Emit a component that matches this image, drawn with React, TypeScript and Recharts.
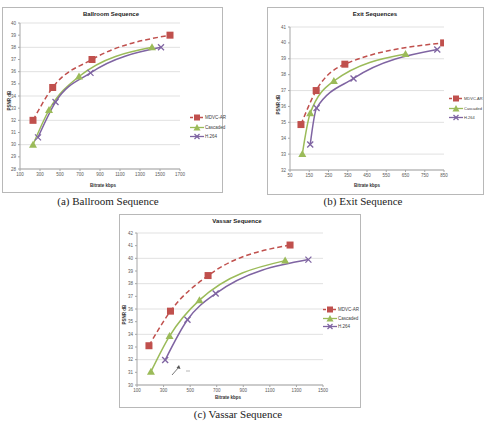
import React from 'react'
import { LineChart, Line, XAxis, YAxis, CartesianGrid } from 'recharts'

// ---- Ballroom ----
const ballroomTicksX = [100, 300, 500, 700, 900, 1100, 1300, 1500, 1700]
const ballroomTicksY = [28, 29, 30, 31, 32, 33, 34, 35, 36, 37, 38, 39, 40]
const ballroomMdvcRate = [230, 427, 820, 1600]
const ballroomMdvcPsnr = [32.0, 34.7, 37.0, 39.0]
const ballroomCascRate = [230, 390, 690, 1420]
const ballroomCascPsnr = [30.0, 32.85, 35.6, 38.0]
const ballroomH264Rate = [280, 455, 805, 1510]
const ballroomH264Psnr = [30.6, 33.5, 35.9, 38.0]

// ---- Exit ----
const exitTicksX = [50, 150, 250, 350, 450, 550, 650, 750, 850]
const exitTicksY = [32, 33, 34, 35, 36, 37, 38, 39, 40, 41]
const exitMdvcRate = [107, 186, 335, 848]
const exitMdvcPsnr = [34.86, 37.0, 38.66, 40.0]
const exitCascRate = [114, 155, 278, 650]
const exitCascPsnr = [33.0, 35.57, 37.6, 39.3]
const exitH264Rate = [155, 188, 380, 815]
const exitH264Psnr = [33.6, 35.9, 37.76, 39.58]

// ---- Vassar ----
const vassarTicksX = [100, 300, 500, 700, 900, 1100, 1300, 1500]
const vassarTicksY = [30, 31, 32, 33, 34, 35, 36, 37, 38, 39, 40, 41, 42]
const vassarMdvcRate = [190, 352, 635, 1252]
const vassarMdvcPsnr = [33.1, 35.83, 38.64, 41.05]
const vassarCascRate = [205, 345, 570, 1215]
const vassarCascPsnr = [31.05, 33.86, 36.7, 39.82]
const vassarH264Rate = [312, 480, 692, 1390]
const vassarH264Psnr = [31.97, 35.15, 37.22, 39.9]

const seriesNames = ['MDVC-AR', 'Cascaded', 'H.264']

const RED = '#c0504d'
const GREEN = '#9bbb59'
const PURPLE = '#7f64a2'
const FONT = '"Liberation Sans", Arial, sans-serif'

const zip = (rate: number[], psnr: number[]) => rate.map((r, i) => ({ rate: r, psnr: psnr[i] }))

const Square = (p: any) => (
  <rect key={`s-${p.index}`} x={p.cx - 3.5} y={p.cy - 3.5} width={7} height={7} fill={RED} />
)
const Tri = (p: any) => (
  <polygon
    key={`t-${p.index}`}
    points={`${p.cx},${p.cy - 4} ${p.cx - 4},${p.cy + 3} ${p.cx + 4},${p.cy + 3}`}
    fill={GREEN}
  />
)
const Cross = (p: any) => (
  <g key={`x-${p.index}`} stroke={PURPLE} strokeWidth={1.3}>
    <line x1={p.cx - 3} y1={p.cy - 3} x2={p.cx + 3} y2={p.cy + 3} />
    <line x1={p.cx - 3} y1={p.cy + 3} x2={p.cx + 3} y2={p.cy - 3} />
  </g>
)

function LegendBox({ left, top, gap, size = 4.5 }: { left: number; top: number; gap: number; size?: number }) {
  const marks = [
    <rect x={4} y={0.5} width={6} height={6} fill={RED} />,
    <polygon points="7,0 3.5,6.5 10.5,6.5" fill={GREEN} />,
    <g stroke={PURPLE} strokeWidth={1.2}>
      <line x1={4.5} y1={1} x2={9.5} y2={6} />
      <line x1={4.5} y1={6} x2={9.5} y2={1} />
    </g>,
  ]
  const colors = [RED, GREEN, PURPLE]
  return (
    <div style={{ position: 'absolute', left, top }}>
      {seriesNames.map((n, i) => (
        <div key={n} style={{ position: 'absolute', left: 0, top: i * gap, display: 'flex', alignItems: 'center', whiteSpace: 'nowrap' }}>
          <svg width={14} height={7}>
            <line x1={0} y1={3.5} x2={14} y2={3.5} stroke={colors[i]} strokeWidth={1.3} strokeDasharray={i === 0 ? '3 2' : undefined} />
            {marks[i]}
          </svg>
          <span style={{ fontFamily: FONT, fontSize: size, color: '#404040', marginLeft: 1 }}>{n}</span>
        </div>
      ))}
    </div>
  )
}

interface PanelProps {
  box: { left: number; top: number; width: number; height: number }
  margin: { top: number; right: number; bottom: number; left: number }
  yWidth: number
  title: string
  titleX: number
  titleY: number
  xLabelPos: [number, number]
  yLabelPos: [number, number]
  ticksX: number[]
  ticksY: number[]
  mdvc: { rate: number; psnr: number }[]
  casc: { rate: number; psnr: number }[]
  h264: { rate: number; psnr: number }[]
  legend: { left: number; top: number; gap: number; size?: number }
  caption: string
  captionX: number
  captionY: number
  children?: React.ReactNode
}

function Panel(p: PanelProps) {
  const tick = { fill: '#595959', fontSize: 4.5, fontFamily: FONT }
  return (
    <>
      <div
        style={{
          position: 'absolute',
          left: p.box.left,
          top: p.box.top,
          width: p.box.width,
          height: p.box.height,
          boxSizing: 'border-box',
          border: '1px solid #b8b8b8',
          background: '#fff',
        }}
      >
        <LineChart width={p.box.width - 2} height={p.box.height - 2} margin={p.margin}>
          <CartesianGrid vertical={false} stroke="#d9d9d9" strokeWidth={0.8} />
          <XAxis
            type="number"
            dataKey="rate"
            domain={[p.ticksX[0], p.ticksX[p.ticksX.length - 1]]}
            ticks={p.ticksX}
            tick={tick}
            height={13}
            tickSize={2}
            tickMargin={2}
            axisLine={{ stroke: '#a6a6a6' }}
            tickLine={{ stroke: '#a6a6a6' }}
            allowDataOverflow
          />
          <YAxis
            type="number"
            dataKey="psnr"
            domain={[p.ticksY[0], p.ticksY[p.ticksY.length - 1]]}
            ticks={p.ticksY}
            tick={tick}
            width={p.yWidth}
            tickSize={2}
            tickMargin={2}
            axisLine={{ stroke: '#a6a6a6' }}
            tickLine={{ stroke: '#a6a6a6' }}
            allowDataOverflow
          />
          <Line data={p.casc} dataKey="psnr" type="monotone" stroke={GREEN} strokeWidth={1.5} dot={Tri} activeDot={false} isAnimationActive={false} />
          <Line data={p.h264} dataKey="psnr" type="monotone" stroke={PURPLE} strokeWidth={1.5} dot={Cross} activeDot={false} isAnimationActive={false} />
          <Line data={p.mdvc} dataKey="psnr" type="monotone" stroke={RED} strokeWidth={1.5} strokeDasharray="5 3" dot={Square} activeDot={false} isAnimationActive={false} />
        </LineChart>
        {p.children}
      </div>
      <div style={{ position: 'absolute', left: p.titleX - 60, top: p.titleY - 4, width: 120, textAlign: 'center', fontFamily: FONT, fontWeight: 700, fontSize: 6, color: '#222' }}>
        {p.title}
      </div>
      <div style={{ position: 'absolute', left: p.xLabelPos[0] - 40, top: p.xLabelPos[1] - 3, width: 80, textAlign: 'center', fontFamily: FONT, fontWeight: 700, fontSize: 4.5, color: '#333' }}>
        Bitrate kbps
      </div>
      <div
        style={{
          position: 'absolute',
          left: p.yLabelPos[0] - 20,
          top: p.yLabelPos[1] - 3,
          width: 40,
          textAlign: 'center',
          transform: 'rotate(-90deg)',
          fontFamily: FONT,
          fontWeight: 700,
          fontSize: 4.5,
          color: '#333',
        }}
      >
        PSNR dB
      </div>
      <LegendBox left={p.legend.left} top={p.legend.top} gap={p.legend.gap} size={p.legend.size} />
      <div style={{ position: 'absolute', left: p.captionX - 80, top: p.captionY - 7, width: 160, textAlign: 'center', fontFamily: '"Liberation Serif", "Times New Roman", serif', fontSize: 11, color: '#222' }}>
        {p.caption}
      </div>
    </>
  )
}

export default function App() {
  return (
    <div style={{ position: 'fixed', left: 0, top: 0, width: 486, height: 425, background: '#fff', overflow: 'hidden' }}>
      <Panel
        box={{ left: 2, top: 7, width: 221, height: 186 }}
        margin={{ top: 15, right: 42, bottom: 10, left: 4 }}
        yWidth={13}
        title="Ballroom Sequence"
        titleX={111}
        titleY={15}
        xLabelPos={[103, 186]}
        yLabelPos={[9, 101]}
        ticksX={ballroomTicksX}
        ticksY={ballroomTicksY}
        mdvc={zip(ballroomMdvcRate, ballroomMdvcPsnr)}
        casc={zip(ballroomCascRate, ballroomCascPsnr)}
        h264={zip(ballroomH264Rate, ballroomH264Psnr)}
        legend={{ left: 190, top: 114, gap: 9.5 }}
        caption="(a) Ballroom Sequence"
        captionX={108}
        captionY={202}
      />
      <Panel
        box={{ left: 267, top: 7, width: 217, height: 188 }}
        margin={{ top: 19, right: 39, bottom: 11, left: 8 }}
        yWidth={14}
        title="Exit Sequences"
        titleX={375}
        titleY={15}
        xLabelPos={[367, 186]}
        yLabelPos={[278, 105]}
        ticksX={exitTicksX}
        ticksY={exitTicksY}
        mdvc={zip(exitMdvcRate, exitMdvcPsnr)}
        casc={zip(exitCascRate, exitCascPsnr)}
        h264={zip(exitH264Rate, exitH264Psnr)}
        legend={{ left: 449, top: 95, gap: 9.5, size: 4 }}
        caption="(b) Exit Sequence"
        captionX={363}
        captionY={202}
      />
      <Panel
        box={{ left: 119, top: 214, width: 242, height: 194 }}
        margin={{ top: 18, right: 37, bottom: 9, left: 4 }}
        yWidth={13}
        title="Vassar Sequence"
        titleX={237}
        titleY={222}
        xLabelPos={[228, 398]}
        yLabelPos={[124, 315]}
        ticksX={vassarTicksX}
        ticksY={vassarTicksY}
        mdvc={zip(vassarMdvcRate, vassarMdvcPsnr)}
        casc={zip(vassarCascRate, vassarCascPsnr)}
        h264={zip(vassarH264Rate, vassarH264Psnr)}
        legend={{ left: 323, top: 306, gap: 8.5 }}
        caption="(c) Vassar Sequence"
        captionX={238}
        captionY={415}
      >
        <svg style={{ position: 'absolute', left: 50, top: 148 }} width={30} height={14}>
          <line x1={2} y1={12} x2={9} y2={4} stroke="#555" strokeWidth={0.8} />
          <polygon points="9,2 10.5,6 6.5,5" fill="#555" />
          <line x1={16} y1={8} x2={20} y2={8} stroke="#888" strokeWidth={0.6} />
        </svg>
      </Panel>
    </div>
  )
}
